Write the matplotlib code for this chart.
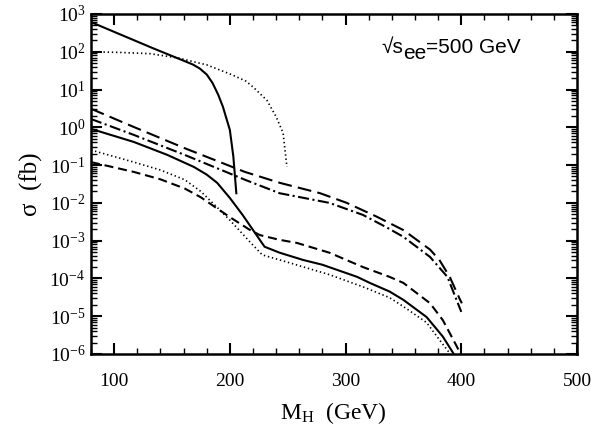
import matplotlib
matplotlib.use('Agg')
import matplotlib.pyplot as plt
import numpy as np
from matplotlib.ticker import LogLocator, MultipleLocator, NullFormatter

plt.rcParams['mathtext.fontset'] = 'custom'
plt.rcParams['mathtext.rm'] = 'Liberation Serif'
plt.rcParams['mathtext.it'] = 'Liberation Serif:italic'
plt.rcParams['mathtext.bf'] = 'Liberation Serif:bold'
plt.rcParams['mathtext.sf'] = 'Liberation Sans'
plt.rcParams['font.family'] = ['Liberation Serif', 'DejaVu Serif']
plt.rcParams['lines.scale_dashes'] = False

# ---- data (M_H in GeV, sigma in fb) ----
m_solid_top = [80, 133, 160, 168, 174, 180, 185, 190, 194, 200, 203, 205.6]
s_solid_top = [610, 126, 58, 46, 36, 25, 15, 7.2, 3.5, 0.85, 0.17, 0.018]

m_dot_top = [80, 105, 131, 156, 168, 180, 202, 214, 220, 232, 240, 246, 249.3]
s_dot_top = [100, 96, 89, 68, 55, 45, 24.5, 16.6, 11.7, 5.2, 1.9, 0.71, 0.089]

m_longdash = [80, 117, 161, 213, 243, 278, 301, 327, 350, 373, 381, 390, 399, 400.5]
s_longdash = [3.1, 1.02, 0.28, 0.066, 0.034, 0.018, 0.010, 0.0043, 0.0019,
              5.8e-4, 3.1e-4, 1.1e-4, 2.7e-5, 2.2e-5]

m_dashdot = [80, 117, 161, 213, 243, 286, 315, 336, 350, 373, 388, 400]
s_dashdot = [1.66, 0.63, 0.186, 0.041, 0.018, 0.010, 0.0048, 0.0022, 0.00126,
             3.7e-4, 1.1e-4, 1.3e-5]

m_solid_low = [80, 117, 146, 169, 180, 189, 200, 211, 230, 243, 263, 280, 310, 321,
               338, 350, 370, 384, 393.5]
s_solid_low = [0.91, 0.41, 0.186, 0.089, 0.056, 0.034, 0.0135, 0.0048, 6.9e-4, 4.8e-4,
               3.1e-4, 2.3e-4, 1.1e-4, 7.6e-5, 4.5e-5, 2.7e-5, 9.5e-6, 2.9e-6, 1.0e-6]

m_dot_low = [80, 117, 140, 161, 175, 189, 200, 208, 217, 228, 243, 286, 315, 338,
             350, 370, 381, 390.5]
s_dot_low = [0.25, 0.12, 0.074, 0.041, 0.020, 0.0076, 0.0035, 0.0019, 9.5e-4,
             4.2e-4, 3.1e-4, 1.26e-4, 6.0e-5, 3.1e-5, 1.8e-5, 6.8e-6, 2.4e-6, 1.0e-6]

m_dash = [80, 117, 140, 161, 175, 189, 200, 217, 226, 243, 258, 286, 315, 338,
          350, 373, 384, 393, 399.5]
s_dash = [0.12, 0.066, 0.042, 0.024, 0.014, 0.0071, 0.0042, 0.00195, 0.0014,
          0.00105, 8.7e-4, 4.8e-4, 2.0e-4, 1.1e-4, 7.6e-5, 2.2e-5, 7.9e-6, 2.4e-6, 1.0e-6]

xticks = [100, 200, 300, 400, 500]

fig = plt.figure(figsize=(6.09, 4.38), dpi=100)
ax = fig.add_axes([0.1494, 0.1918, 0.7981, 0.7763])

lw = 1.5
ax.plot(m_solid_top, s_solid_top, color='black', lw=lw, ls='-')
ax.plot(m_dot_top, s_dot_top, color='black', lw=1.2, ls=(0, (1, 2)))
ax.plot(m_longdash, s_longdash, color='black', lw=lw, ls=(0, (10, 4.5)))
ax.plot(m_dashdot, s_dashdot, color='black', lw=lw, ls=(0, (8, 2.5, 1.5, 2.5)))
ax.plot(m_solid_low, s_solid_low, color='black', lw=lw, ls='-')
ax.plot(m_dot_low, s_dot_low, color='black', lw=1.2, ls=(0, (1, 2)))
ax.plot(m_dash, s_dash, color='black', lw=lw, ls=(0, (6.5, 3.5)))

ax.set_yscale('log')
ax.set_xlim(80, 500)
ax.set_ylim(1e-6, 1e3)

ax.set_xticks(xticks)
ax.set_xticklabels([str(v) for v in xticks])
ax.xaxis.set_minor_locator(MultipleLocator(20))
ax.yaxis.set_major_locator(LogLocator(base=10, numticks=20))
ax.yaxis.set_minor_locator(LogLocator(base=10, subs=np.arange(2, 10), numticks=20))
ax.yaxis.set_minor_formatter(NullFormatter())

for s in ax.spines.values():
    s.set_linewidth(1.8)

ax.tick_params(which='both', direction='in', top=True, right=True)
ax.tick_params(which='major', length=8, width=1.5)
ax.tick_params(which='minor', length=4, width=1.0)
ax.tick_params(axis='x', which='major', labelsize=14, pad=14)
ax.tick_params(axis='y', which='major', labelsize=14, pad=4)

ax.set_xlabel(r'$\mathrm{M_H}$  (GeV)', fontsize=17)
ax.xaxis.set_label_coords(0.498, -0.135)
ax.set_ylabel(r'σ  (fb)', fontsize=18)
ax.yaxis.set_label_coords(-0.098, 0.5)

sans = ['Liberation Sans', 'DejaVu Sans']
fs = 15
t1 = ax.text(0.597, 0.885, '√s', transform=ax.transAxes, fontsize=fs,
             family=sans, va='baseline', ha='left')
t2 = ax.annotate('ee', xy=(1, 0), xycoords=t1, xytext=(0, -4),
                 textcoords='offset points', fontsize=fs, family=sans,
                 va='bottom', ha='left')
ax.annotate('=500 GeV', xy=(1, 0), xycoords=t2, xytext=(0, 4),
            textcoords='offset points', fontsize=fs, family=sans,
            va='bottom', ha='left')

fig.savefig('out.png', dpi=100)
